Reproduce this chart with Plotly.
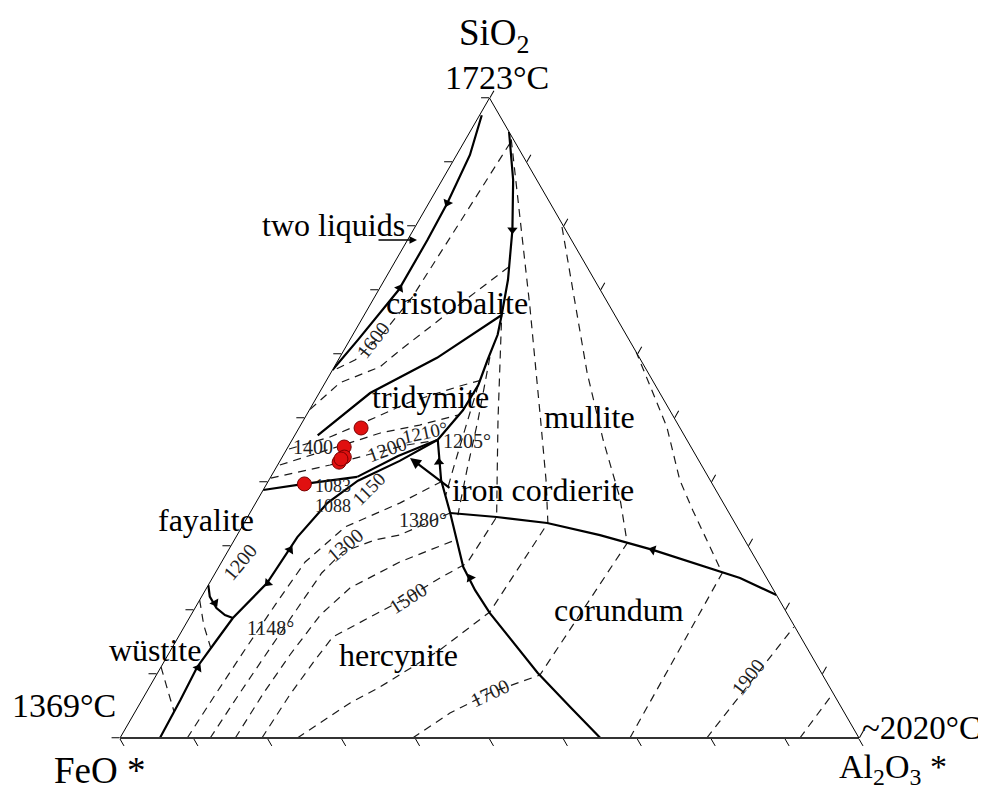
import plotly.graph_objects as go

# ---------------- data: compositions as (SiO2 %, Al2O3 %); FeO = 100 - SiO2 - Al2O3 ----
# solid phase-boundary curves
two_liquid = [(97.3, 0.3), (91.1, 1.8), (83.6, 2.5), (77.8, 2.7), (70.0, 2.7), (62.2, 1.1), (57.5, 0.0)]
crist_mullite = [(94.7, 5.3), (87.2, 9.6), (79.4, 13.4), (71.6, 16.7), (66.1, 18.6)]
crist_trid = [(66.1, 18.6), (59.4, 13.2), (53.9, 6.9), (47.3, 3.1)]
trid_mullite = [(66.1, 18.6), (63.0, 19.6), (59.1, 20.2), (55.2, 20.9), (51.2, 20.8), (46.6, 19.7)]
trid_fayalite = [(38.75, 0.0), (39.7, 5.1), (40.8, 11.7)]
trid_cord = [(40.8, 11.7), (44.06, 15.6), (46.6, 19.7)]
fay_herc = [(0.0, 5.4), (5.94, 5.2), (11.1, 4.9), (15.0, 5.4), (18.75, 5.9), (24.2, 7.8),
            (31.4, 8.3), (36.7, 9.7), (40.2, 12.1), (43.3, 16.2), (46.6, 19.7)]
cord_herc = [(46.6, 19.7), (40.3, 23.3), (35.16, 27.1), (26.7, 33.1), (23.1, 36.5), (19.5, 40.3),
             (10.2, 51.4), (4.84, 58.5), (0.0, 65.0)]
cord_corundum = [(35.16, 27.1), (34.53, 33.7), (33.6, 41.0), (31.7, 49.1), (29.4, 57.4),
                 (25.0, 71.4), (22.34, 77.66)]
fay_wustite = [(23.9, 0.0), (22.1, 1.1), (20.3, 2.9), (19.2, 4.6), (18.75, 5.9)]

# dashed isotherms
iso_crist_1600 = [(92.97, 6.3), (80.6, 5.7), (68.9, 5.1), (63.3, 4.0), (59.1, 2.3), (57.3, 0.0)]
iso_crist_b = [(73.6, 15.8), (66.25, 11.1), (60.6, 7.6), (58.0, 6.2), (55.5, 2.0), (51.25, 0.0)]
iso_trid_1400 = [(45.16, 0.3), (47.03, 4.9), (49.4, 8.5), (52.5, 13.0), (55.0, 18.5), (55.9, 20.9)]
iso_trid_b = [(42.66, 0.3), (45.78, 7.3), (47.66, 11.4), (48.9, 16.1), (50.47, 20.5)]
iso_trid_1200 = [(40.6, 0.1), (42.66, 7.1), (44.22, 11.3), (45.78, 15.9), (46.4, 19.0)]
iso_herc_a = [(0.0, 9.1), (6.72, 9.5), (13.75, 10.0), (20.8, 10.6), (27.5, 11.3), (33.0, 14.0),
              (36.7, 19.5), (40.0, 23.4)]
iso_herc_1300 = [(0.0, 12.2), (7.03, 12.7), (14.06, 13.3), (20.47, 13.9), (25.78, 14.4), (29.06, 15.6),
                 (30.94, 19.0), (31.72, 22.0), (33.44, 24.5), (35.16, 27.1)]
iso_herc_1400 = [(0.0, 15.6), (6.72, 15.9), (12.97, 16.5), (19.22, 17.5), (23.44, 19.4), (27.5, 24.1),
                 (30.94, 29.9)]
iso_1500 = [(0.0, 19.2), (6.72, 19.6), (12.19, 20.3), (15.78, 20.9), (18.9, 24.4), (22.03, 28.0),
            (25.0, 30.8), (27.34, 33.3), (34.53, 33.7), (41.9, 30.1), (49.7, 26.3), (66.1, 18.6)]
iso_1600 = [(0.0, 24.0), (5.47, 28.4), (7.97, 31.2), (13.75, 36.4), (19.69, 40.2), (33.6, 41.1),
            (40.3, 37.5), (50.16, 31.8), (67.34, 21.8), (94.0, 5.9)]
iso_1700 = [(0.0, 39.6), (3.9, 42.7), (7.03, 46.5), (9.84, 51.9), (30.47, 53.4), (37.5, 48.9),
            (46.56, 42.1), (57.03, 34.7), (80.6, 19.4)]
iso_1800 = [(0.0, 69.0), (25.78, 68.6), (35.6, 59.7), (40.3, 55.6), (48.6, 49.7), (60.3, 39.7)]
iso_1900 = [(0.0, 79.4), (17.34, 82.5)]
iso_2000 = [(0.0, 92.0), (7.0, 93.0)]
iso_cord_a = [(55.2, 20.9), (48.1, 22.6), (41.9, 24.1), (37.97, 25.1)]
iso_cord_b = [(59.5, 20.3), (49.7, 23.6), (41.9, 26.0), (34.84, 28.3)]
iso_wus_a = [(21.56, 0.0), (17.66, 2.5), (14.0, 5.3)]
iso_wus_b = [(11.1, 0.0), (7.5, 2.7), (4.06, 5.3)]

# direction arrows on boundary curves: (SiO2, Al2O3, angle in degrees clockwise from up)
arrows = [(83.6, 2.5, 204), (70.3, 2.7, 30), (79.4, 13.4, 181), (43.1, 21.6, 356),
          (25.0, 34.9, 332), (29.4, 57.4, 286), (10.94, 5.1, 31), (24.2, 7.9, 224),
          (29.4, 8.3, 33), (21.1, 2.3, 150)]

# sample compositions (red dots)
samples = [(48.44, 8.4), (45.47, 7.6), (43.9, 8.4), (43.1, 8.1), (43.6, 8.1), (39.7, 5.1)]

# ---------------- text ----------------
region_labels = ["cristobalite", "tridymite", "mullite", "iron cordierite", "fayalite",
                 "corundum", "wüstite", "hercynite", "two liquids"]
temp_labels = ["1600", "1400", "1200", "1210°", "1205°", "1083", "1088", "1150", "1380°",
               "1300", "1200", "1148°", "1500", "1700", "1900"]
corner_labels = ["SiO<sub>2</sub>", "1723°C", "1369°C", "~2020°C", "FeO *", "Al<sub>2</sub>O<sub>3</sub> *"]

# ---------------- layout geometry (page pixels; the page body has an 8 px margin) ----------
OFF = 8
W, H = 986 - OFF, 790 - OFF
TRI_L, TRI_R, TRI_BASE = 120 - OFF, 859 - OFF, 738 - OFF
tri_h = (TRI_R - TRI_L) * 3 ** 0.5 / 2
yc = (H - (TRI_BASE - tri_h / 2)) / H

region_pos = [(457, 303), (430, 397), (589, 417), (543, 490), (206, 520), (619, 610),
              (155, 650), (398, 655), (333, 225)]
temp_pos = [(373, 340, -52), (313, 447, 0), (387, 449, -20), (425, 432, -12), (467, 441, 0),
            (333, 486, 0), (333, 506, 0), (368, 489, -45), (423, 520, 0), (345, 545, -40),
            (240, 562, -50), (270, 628, 0), (408, 598, -33), (490, 693, -25), (748, 677, -52)]
temp_size = [20, 20, 20, 19, 20, 18, 18, 19, 20, 20, 20, 20, 20, 20, 20]
corner_pos = [(494, 36), (497, 77), (64, 705), (921, 728), (99, 770), (893, 769)]
corner_size = [37, 34, 34, 33, 37, 34]

FONT = "Liberation Serif, Times New Roman, serif"


def paper(x, y):
    return (x - OFF) / W, 1 - (y - OFF) / H


def tern_xyz(points):
    a = [p[0] for p in points]
    c = [p[1] for p in points]
    b = [max(0.0, 100 - p[0] - p[1]) for p in points]
    return a, b, c


fig = go.Figure()

dashed = [iso_crist_1600, iso_crist_b, iso_trid_1400, iso_trid_b, iso_trid_1200, iso_herc_a,
          iso_herc_1300, iso_herc_1400, iso_1500, iso_1600, iso_1700, iso_1800, iso_1900,
          iso_2000, iso_cord_a, iso_cord_b, iso_wus_a, iso_wus_b]
for pts in dashed:
    a, b, c = tern_xyz(pts)
    fig.add_trace(go.Scatterternary(a=a, b=b, c=c, mode="lines", cliponaxis=False,
                                    line=dict(color="#1a1a1a", width=1.2, dash="8px,6px"),
                                    hoverinfo="skip"))

solid = [two_liquid, crist_mullite, crist_trid, trid_mullite, trid_fayalite, trid_cord,
         fay_herc, cord_herc, cord_corundum, fay_wustite]
for pts in solid:
    a, b, c = tern_xyz(pts)
    fig.add_trace(go.Scatterternary(a=a, b=b, c=c, mode="lines", cliponaxis=False,
                                    line=dict(color="black", width=2.2),
                                    hoverinfo="skip"))

a, b, c = tern_xyz([(p[0], p[1]) for p in arrows])
fig.add_trace(go.Scatterternary(a=a, b=b, c=c, mode="markers", cliponaxis=False,
                                marker=dict(symbol="triangle-up", size=9, color="black",
                                            angle=[p[2] for p in arrows]),
                                hoverinfo="skip"))

a, b, c = tern_xyz(samples)
fig.add_trace(go.Scatterternary(a=a, b=b, c=c, mode="markers", cliponaxis=False,
                                marker=dict(symbol="circle", size=14, color="#e01010",
                                            line=dict(color="#7a0000", width=1)),
                                hoverinfo="skip"))

annotations = []
for txt, (x, y) in zip(region_labels, region_pos):
    px, py = paper(x, y)
    annotations.append(dict(text=txt, x=px, y=py, xref="paper", yref="paper", showarrow=False,
                            xanchor="center", yanchor="middle",
                            font=dict(family=FONT, size=32, color="black")))
for txt, (x, y, ang), sz in zip(temp_labels, temp_pos, temp_size):
    px, py = paper(x, y)
    annotations.append(dict(text=txt, x=px, y=py, xref="paper", yref="paper", showarrow=False,
                            xanchor="center", yanchor="middle",
                            textangle=ang, font=dict(family=FONT, size=sz, color="#222")))
for txt, (x, y), sz in zip(corner_labels, corner_pos, corner_size):
    px, py = paper(x, y)
    annotations.append(dict(text=txt, x=px, y=py, xref="paper", yref="paper", showarrow=False,
                            xanchor="center", yanchor="middle",
                            font=dict(family=FONT, size=sz, color="black")))

# pointer arrows ("two liquids" and "iron cordierite")
tx, ty = paper(417, 240)
annotations.append(dict(text="", x=tx, y=ty, xref="paper", yref="paper", showarrow=True,
                        ax=-40, ay=0, arrowhead=2, arrowsize=1, arrowwidth=1.5, arrowcolor="black"))
tx, ty = paper(410, 458)
annotations.append(dict(text="", x=tx, y=ty, xref="paper", yref="paper", showarrow=True,
                        ax=41, ay=31, arrowhead=2, arrowsize=1, arrowwidth=2.2, arrowcolor="black"))

axis = dict(showticklabels=False, ticks="outside", ticklen=8, tickwidth=1, tickcolor="black",
            dtick=10, tick0=0, showgrid=False, showline=True, linecolor="black", linewidth=1,
            title=dict(text=""), min=0)
baxis = dict(axis, linewidth=2, linecolor="#333")

fig.update_layout(
    width=W, height=H, margin=dict(l=0, r=0, t=0, b=0, autoexpand=False),
    paper_bgcolor="white", showlegend=False,
    ternary=dict(sum=100, bgcolor="white",
                 domain=dict(x=[TRI_L / W, TRI_R / W], y=[yc - 0.42, yc + 0.42]),
                 aaxis=axis, baxis=baxis, caxis=axis),
    annotations=annotations,
)

fig.write_html("out.html")
